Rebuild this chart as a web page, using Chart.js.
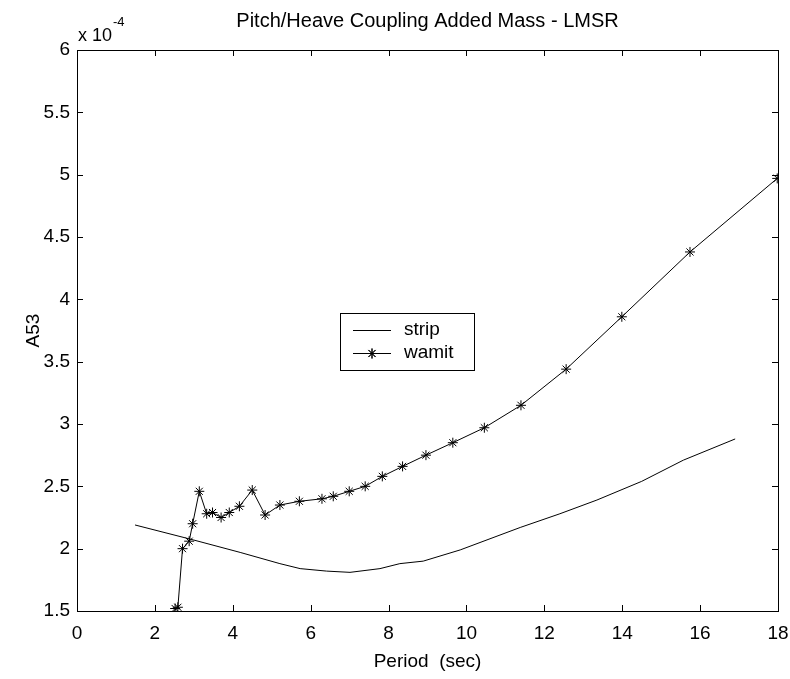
<!DOCTYPE html>
<html>
<head>
<meta charset="utf-8">
<script src="https://cdn.jsdelivr.net/npm/chart.js@4.4.1/dist/chart.umd.min.js"></script>
<style>
  html, body { margin: 0; padding: 0; background: #fff; }
  canvas { display: block; }
</style>
</head>
<body>
<canvas id="c" width="790" height="679"></canvas>
<script>
// ---- data (A53 values in units of 1e-4) ----
const chartTitle = "Pitch/Heave Coupling Added Mass - LMSR";
const xAxisTitle = "Period  (sec)";
const yAxisTitle = "A53";
const seriesNames = ["strip", "wamit"];

const stripPeriod = [1.49, 2.99, 4.19, 5.21, 5.73, 6.41, 7.01, 7.78, 8.29, 8.89, 9.84, 11.38, 12.40, 13.35, 14.50, 15.57, 16.90];
const stripA53    = [2.19, 2.07, 1.97, 1.88, 1.84, 1.82, 1.81, 1.84, 1.88, 1.90, 1.99, 2.17, 2.28, 2.39, 2.54, 2.71, 2.88];

const wamitPeriod = [2.52, 2.59, 2.71, 2.88, 2.97, 3.14, 3.33, 3.48, 3.70, 3.91, 4.17, 4.50, 4.83, 5.21, 5.71, 6.29, 6.58, 6.99, 7.40, 7.84, 8.36, 8.96, 9.65, 10.46, 11.40, 12.56, 13.99, 15.74, 17.98];
const wamitA53    = [1.52, 1.53, 2.00, 2.06, 2.20, 2.46, 2.28, 2.29, 2.25, 2.29, 2.34, 2.47, 2.27, 2.35, 2.38, 2.40, 2.42, 2.46, 2.50, 2.58, 2.66, 2.75, 2.85, 2.97, 3.15, 3.44, 3.86, 4.38, 4.97];

const xRange = [0, 18], xStep = 2;
const yRange = [1.5, 6], yStep = 0.5;
const yExponent = "-4";

const FONT = "'Liberation Sans', Arial, Helvetica, sans-serif";

function pts(xs, ys) { return xs.map((x, i) => ({ x: x, y: ys[i] })); }

const framePlugin = {
  id: 'matlabFrame',
  afterDraw(chart) {
    const ctx = chart.ctx;
    const ca = chart.chartArea;
    const xs = chart.scales.x, ys = chart.scales.y;
    ctx.save();
    ctx.strokeStyle = '#000';
    ctx.lineWidth = 1;
    ctx.strokeRect(Math.round(ca.left) + 0.5, Math.round(ca.top) + 0.5,
                   Math.round(ca.right - ca.left), Math.round(ca.bottom - ca.top));
    const tl = 6;
    ctx.beginPath();
    xs.ticks.forEach(t => {
      const p = Math.round(xs.getPixelForValue(t.value)) + 0.5;
      ctx.moveTo(p, ca.bottom); ctx.lineTo(p, ca.bottom - tl);
      ctx.moveTo(p, ca.top); ctx.lineTo(p, ca.top + tl);
    });
    ys.ticks.forEach(t => {
      const p = Math.round(ys.getPixelForValue(t.value)) + 0.5;
      ctx.moveTo(ca.left, p); ctx.lineTo(ca.left + tl, p);
      ctx.moveTo(ca.right, p); ctx.lineTo(ca.right - tl, p);
    });
    ctx.stroke();

    // title
    ctx.fillStyle = '#000';
    ctx.textAlign = 'center';
    ctx.textBaseline = 'middle';
    ctx.font = '20px ' + FONT;
    ctx.fillText(chartTitle, (ca.left + ca.right) / 2, 21);

    // exponent label
    ctx.textAlign = 'left';
    ctx.textBaseline = 'alphabetic';
    ctx.font = '18px ' + FONT;
    ctx.fillText('x 10', ca.left + 1, 41);
    const w = ctx.measureText('x 10').width;
    ctx.font = '13px ' + FONT;
    ctx.fillText(yExponent, ca.left + 1 + w + 1, 26);

    // legend
    const lx = 340, ly = 313, lw = 134, lh = 57;
    ctx.fillStyle = '#fff';
    ctx.fillRect(lx, ly, lw, lh);
    ctx.strokeStyle = '#000';
    ctx.strokeRect(lx + 0.5, ly + 0.5, lw, lh);
    const rows = [ly + 17, ly + 40];
    chart.data.datasets.forEach((ds, i) => {
      const y = rows[i] + 0.5;
      ctx.strokeStyle = ds.borderColor;
      ctx.lineWidth = 1;
      ctx.beginPath();
      ctx.moveTo(353, y); ctx.lineTo(391, y);
      ctx.stroke();
      if (ds.pointStyle === 'star') {
        Chart.helpers.drawPoint(ctx, { pointStyle: 'star', radius: ds.pointRadius, borderWidth: 1, rotation: 0 }, 372, y);
        ctx.stroke();
      }
      ctx.fillStyle = '#000';
      ctx.font = '19px ' + FONT;
      ctx.textBaseline = 'middle';
      ctx.textAlign = 'left';
      ctx.fillText(ds.label, 404, rows[i]);
    });
    ctx.restore();
  }
};

new Chart(document.getElementById('c'), {
  type: 'line',
  data: {
    datasets: [
      {
        label: seriesNames[0],
        data: pts(stripPeriod, stripA53),
        borderColor: '#000',
        borderWidth: 1,
        pointRadius: 0,
        fill: false,
        tension: 0
      },
      {
        label: seriesNames[1],
        data: pts(wamitPeriod, wamitA53),
        borderColor: '#000',
        backgroundColor: '#000',
        borderWidth: 1,
        pointStyle: 'star',
        pointRadius: 5,
        pointBorderWidth: 1,
        pointBorderColor: '#000',
        fill: false,
        tension: 0
      }
    ]
  },
  options: {
    responsive: false,
    animation: false,
    events: [],
    layout: { padding: { top: 50, right: 12, bottom: 0, left: 0 } },
    plugins: {
      legend: { display: false },
      tooltip: { enabled: false },
      title: { display: false }
    },
    scales: {
      x: {
        type: 'linear',
        min: xRange[0], max: xRange[1],
        ticks: { stepSize: xStep, color: '#000', font: { family: FONT, size: 19 }, padding: 11, maxRotation: 0 },
        grid: { display: true, drawOnChartArea: false, drawTicks: false },
        border: { display: false },
        title: { display: true, text: xAxisTitle, color: '#000', font: { family: FONT, size: 19 }, padding: { top: 0, bottom: 6 } },
        afterFit(scale) { scale.height = 68; scale.paddingLeft = 0; scale.paddingRight = 0; }
      },
      y: {
        type: 'linear',
        min: yRange[0], max: yRange[1],
        ticks: {
          stepSize: yStep, color: '#000', font: { family: FONT, size: 19 }, padding: 7,
          callback: (v) => String(Math.round(v * 10) / 10)
        },
        grid: { display: true, drawOnChartArea: false, drawTicks: false },
        border: { display: false },
        title: { display: true, text: yAxisTitle, color: '#000', font: { family: FONT, size: 19 }, padding: { top: 22, bottom: 0 } },
        afterFit(scale) { scale.width = 77; scale.paddingTop = 0; scale.paddingBottom = 0; }
      }
    }
  },
  plugins: [framePlugin]
});
</script>
</body>
</html>
